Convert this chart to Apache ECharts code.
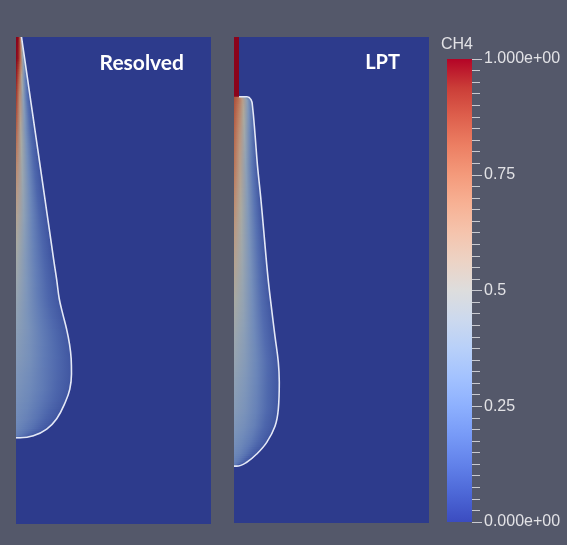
<!DOCTYPE html>
<html><head><meta charset="utf-8">
<script src="https://cdn.jsdelivr.net/npm/echarts@6/dist/echarts.min.js"></script>
<style>html,body{margin:0;padding:0;background:#54586a;}#c{width:567px;height:545px;}</style>
</head><body><div id="c"></div>
<script>
// ---- data ----
const panelTitles = ['Resolved', 'LPT'];
const colorbarTitle = 'CH4';
const colorbarTicks = [0, 0.25, 0.5, 0.75, 1];
const colorbarTickLabels = ['0.000e+00', '0.25', '0.5', '0.75', '1.000e+00'];

// contour of the plume: [radial x, axial y]
const leftContour = [[1.13,0],[1.78,4.5],[2.37,8.6],[2.96,12.7],[3.86,18.9],[4.90,26.1],[5.94,33.3],[6.82,39.4],[7.71,45.6],[8.33,49.7],[8.88,53.8],[9.6,56.9],[10.36,59.9],[10.97,63.0],[11.32,66.1],[11.38,69.2],[11.04,72.3],[10.15,74.9],[8.35,78.4],[6.3,80.5],[3.55,81.9],[0.82,82.3],[0,82.3]];
// CH4 across each row: axis, 1/4, 1/2, 3/4 of the way to the contour, at the contour
const leftProfile = [[1.0,1.0,0.97,0.75,0.4],[1.0,0.97,0.8,0.45,0.2],[0.97,0.8,0.5,0.25,0.1],[0.92,0.65,0.38,0.18,0.08],[0.82,0.52,0.3,0.15,0.07],[0.7,0.45,0.27,0.14,0.07],[0.6,0.4,0.25,0.13,0.07],[0.53,0.36,0.23,0.13,0.07],[0.47,0.33,0.22,0.13,0.07],[0.44,0.32,0.215,0.13,0.075],[0.41,0.31,0.21,0.13,0.08],[0.39,0.3,0.21,0.135,0.08],[0.37,0.3,0.21,0.14,0.08],[0.355,0.29,0.21,0.14,0.08],[0.34,0.285,0.205,0.14,0.08],[0.32,0.27,0.2,0.135,0.08],[0.305,0.26,0.2,0.13,0.08],[0.29,0.25,0.19,0.13,0.08],[0.27,0.23,0.18,0.12,0.08],[0.25,0.21,0.17,0.12,0.08],[0.22,0.19,0.15,0.11,0.08],[0.18,0.16,0.13,0.1,0.08],[0.18,0.16,0.13,0.1,0.08]];

const rightJet = [[1.03,0],[1.03,12.3]];
const rightJetProfile = [[1,1,1,1,1],[1,1,1,1,1]];
const rightContour = [[1.03,12.3],[2.67,12.3],[3.49,12.9],[3.79,14.2],[4.31,20.0],[4.80,26.3],[5.48,33.0],[6.11,40.0],[6.97,49.5],[7.73,56.1],[8.41,61.6],[9.09,66.9],[9.29,71.0],[9.09,76.6],[8.41,80.1],[6.71,83.4],[4.66,85.8],[2.61,87.5],[0.55,88.3],[0,88.3]];
const rightProfile = [[0.86,0.8,0.62,0.4,0.2],[0.86,0.8,0.62,0.4,0.2],[0.86,0.78,0.6,0.38,0.18],[0.85,0.74,0.55,0.33,0.15],[0.8,0.65,0.45,0.25,0.1],[0.76,0.58,0.38,0.2,0.08],[0.69,0.52,0.34,0.18,0.07],[0.62,0.47,0.31,0.17,0.07],[0.54,0.42,0.29,0.16,0.07],[0.48,0.39,0.27,0.15,0.08],[0.44,0.36,0.26,0.15,0.08],[0.41,0.34,0.25,0.15,0.08],[0.38,0.32,0.24,0.14,0.08],[0.35,0.3,0.23,0.14,0.08],[0.32,0.28,0.22,0.13,0.08],[0.29,0.25,0.2,0.13,0.08],[0.26,0.23,0.18,0.12,0.08],[0.23,0.2,0.16,0.11,0.08],[0.2,0.18,0.15,0.1,0.08],[0.2,0.18,0.15,0.1,0.08]];

// ---- colour map (cool to warm) ----
const cmapColors = [[59,76,192],[77,104,215],[98,130,234],[119,154,247],[141,176,254],[163,194,255],[184,208,249],[204,217,238],[221,221,221],[236,211,197],[245,196,173],[247,177,148],[244,154,123],[236,127,99],[222,96,77],[203,62,56],[180,4,38]];
const SHADE = [0.77, 0.77, 0.73];
function cmap(v, shade) {
  v = Math.max(0, Math.min(1, v));
  const p = v * (cmapColors.length - 1);
  const i = Math.min(cmapColors.length - 2, Math.floor(p));
  const t = p - i;
  const c = cmapColors[i].map((a, k) => a + (cmapColors[i + 1][k] - a) * t);
  const s = shade ? SHADE : [1, 1, 1];
  return 'rgb(' + c.map((a, k) => Math.round(a * s[k])).join(',') + ')';
}

function fieldSeries(idx, rows, prof) {
  return {
    type: 'custom', xAxisIndex: idx, yAxisIndex: idx, silent: true, z: 2,
    data: rows.slice(0, -1).map((r, i) => [r[0], r[1], i]),
    encode: { x: 0, y: 1 },
    renderItem: function (params, api) {
      const i = api.value(2);
      const a = rows[i], b = rows[i + 1];
      const va = prof[i], vb = prof[i + 1];
      const A0 = api.coord([0, a[1]]), AW = api.coord([a[0], a[1]]);
      const B0 = api.coord([0, b[1]]), BW = api.coord([b[0], b[1]]);
      const h = B0[1] - A0[1];
      if (h < 0.05) return null;
      const n = Math.max(1, Math.ceil(h / 2.5));
      const children = [];
      for (let k = 0; k < n; k++) {
        const t0 = k / n, t1 = (k + 1) / n, tm = (t0 + t1) / 2;
        const y0 = A0[1] + h * t0, y1 = A0[1] + h * t1 + (k < n - 1 || i < rows.length - 2 ? 0.8 : 0);
        const xw0 = AW[0] + (BW[0] - AW[0]) * t0, xw1 = AW[0] + (BW[0] - AW[0]) * t1;
        const wm = Math.max(0.5, (xw0 + xw1) / 2 - A0[0]);
        const vals = va.map((v, j) => v + (vb[j] - v) * tm);
        const stops = vals.map((v, j) => ({ offset: j / (vals.length - 1), color: cmap(v, true) }));
        children.push({
          type: 'polygon',
          shape: { points: [[A0[0], y0], [xw0, y0], [xw1, y1], [A0[0], y1]] },
          style: { fill: new echarts.graphic.LinearGradient(A0[0], 0, A0[0] + wm, 0, stops, true) }
        });
      }
      return { type: 'group', children: children };
    }
  };
}

function contourSeries(idx, pts) {
  return {
    type: 'line', xAxisIndex: idx, yAxisIndex: idx, data: pts, showSymbol: false, symbol: 'none',
    smooth: 0.4, silent: true, z: 3,
    lineStyle: { color: '#e4e8f6', width: 1.6 }
  };
}

const panelBg = cmap(0, true);
const chart = echarts.init(document.getElementById('c'), null, { renderer: 'canvas' });
const hiddenAxis = { show: false };
const option = {
  animation: false,
  backgroundColor: '#54586a',
  textStyle: { fontFamily: 'Liberation Sans' },
  grid: [
    { left: 16, top: 37, width: 195, height: 487, show: true, backgroundColor: panelBg, borderWidth: 0, outerBoundsMode: 'none' },
    { left: 234, top: 37, width: 195, height: 486, show: true, backgroundColor: panelBg, borderWidth: 0, outerBoundsMode: 'none' },
    { left: 447, top: 59, width: 25, height: 463, outerBoundsMode: 'none' }
  ],
  xAxis: [
    Object.assign({ type: 'value', gridIndex: 0, min: 0, max: 40 }, hiddenAxis),
    Object.assign({ type: 'value', gridIndex: 1, min: 0, max: 40 }, hiddenAxis),
    { type: 'category', gridIndex: 2, data: [colorbarTitle], show: false }
  ],
  yAxis: [
    Object.assign({ type: 'value', gridIndex: 0, min: 0, max: 100, inverse: true }, hiddenAxis),
    Object.assign({ type: 'value', gridIndex: 1, min: 0, max: 100, inverse: true }, hiddenAxis),
    {
      type: 'value', gridIndex: 2, min: 0, max: 1, interval: 0.25, position: 'right',
      axisLine: { show: false }, splitLine: { show: false },
      axisTick: { show: true, length: 10, lineStyle: { color: '#c9cad0', width: 1 } },
      minorTick: { show: true, splitNumber: 10, length: 8, lineStyle: { color: '#c9cad0', width: 1 } },
      axisLabel: {
        show: true, margin: 12, color: '#e2e2e6', fontSize: 16, fontFamily: 'Liberation Sans',
        formatter: function (v) { const i = colorbarTicks.indexOf(v); return i >= 0 ? colorbarTickLabels[i] : ''; }
      }
    }
  ],
  graphic: [
    { type: 'text', x: 184, y: 63, style: { text: panelTitles[0], align: 'right', verticalAlign: 'middle', font: 'bold 21px Lato', fill: '#ffffff' } },
    { type: 'text', x: 400, y: 63, style: { text: panelTitles[1], align: 'right', verticalAlign: 'middle', font: 'bold 20px Lato', fill: '#ffffff' } },
    { type: 'text', x: 441, y: 45, style: { text: colorbarTitle, align: 'left', verticalAlign: 'middle', font: '16px "Liberation Sans"', fill: '#e2e2e6' } }
  ],
  series: [
    fieldSeries(0, leftContour, leftProfile),
    contourSeries(0, leftContour),
    fieldSeries(1, rightJet.concat(rightContour), rightJetProfile.concat(rightProfile)),
    contourSeries(1, rightContour),
    {
      type: 'bar', xAxisIndex: 2, yAxisIndex: 2, data: [1], barWidth: '100%', silent: true,
      itemStyle: {
        color: new echarts.graphic.LinearGradient(0, 1, 0, 0,
          cmapColors.map((c, i) => ({ offset: i / (cmapColors.length - 1), color: 'rgb(' + c.join(',') + ')' })))
      }
    }
  ]
};
chart.setOption(option);
</script></body></html>
